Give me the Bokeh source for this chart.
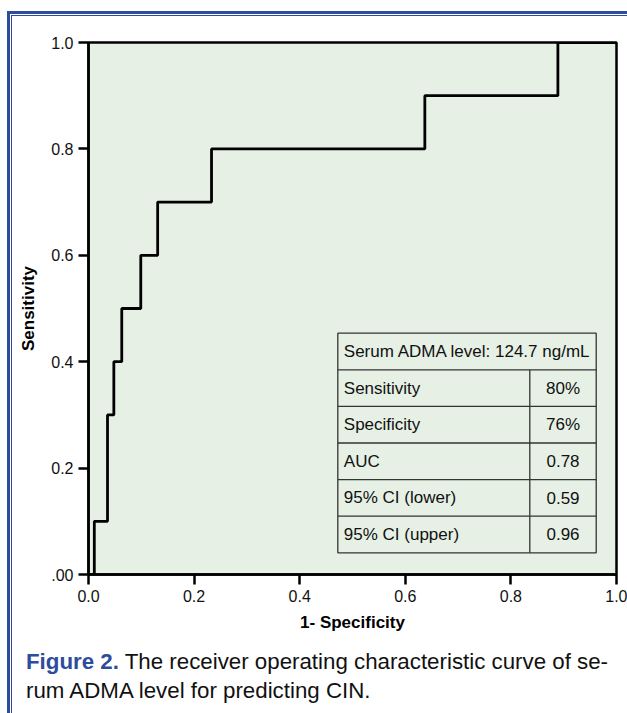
from bokeh.plotting import figure
from bokeh.layouts import column
from bokeh.models import Range1d, FixedTicker, Div
from bokeh.core.properties import value
from bokeh.embed import file_html
from bokeh.resources import INLINE

# ---- data ----
fpr = [0.0, 0.011, 0.036, 0.048, 0.063, 0.099, 0.131, 0.233, 0.637, 0.889, 1.0]
tpr = [0.0, 0.1, 0.3, 0.4, 0.5, 0.6, 0.7, 0.8, 0.9, 1.0, 1.0]
ticks = [0.0, 0.2, 0.4, 0.6, 0.8, 1.0]
x_tick_labels = ["0.0", "0.2", "0.4", "0.6", "0.8", "1.0"]
y_tick_labels = [".00", "0.2", "0.4", "0.6", "0.8", "1.0"]
table_header = "Serum ADMA level: 124.7 ng/mL"
table_labels = ["Sensitivity", "Specificity", "AUC", "95% CI (lower)", "95% CI (upper)"]
table_values = ["80%", "76%", "0.78", "0.59", "0.96"]
caption_bold = "Figure 2."
caption_line1 = "The receiver operating characteristic curve of se-"
caption_line2 = "rum ADMA level for predicting CIN."
x_label = "1- Specificity"
y_label = "Sensitivity"

# ---- style ----
FONT = "Liberation Sans"
BG = "#E6F0E5"
BLUE = "#2D4C9C"
CONTENT_W = 617

p = figure(width=CONTENT_W, height=622, output_backend="svg", toolbar_location=None,
           x_range=Range1d(0, 1), y_range=Range1d(0, 1),
           min_border_left=78, min_border_right=11, min_border_top=28, min_border_bottom=62)
p.background_fill_color = BG
p.border_fill_color = None
p.outline_line_color = "black"
p.outline_line_width = 2.5
p.grid.visible = False

for ax, labels, lab in ((p.xaxis, x_tick_labels, x_label), (p.yaxis, y_tick_labels, y_label)):
    ax.ticker = FixedTicker(ticks=ticks)
    ax.major_label_overrides = dict(zip(ticks, labels))
    ax.axis_line_width = 2.5
    ax.axis_line_color = "black"
    ax.major_tick_line_width = 2.5
    ax.major_tick_line_color = "black"
    ax.major_tick_out = 10
    ax.major_tick_in = 0
    ax.minor_tick_line_color = None
    ax.major_label_text_font = FONT
    ax.major_label_text_font_size = "16px"
    ax.major_label_text_color = "#111111"
    ax.major_label_standoff = 5
    ax.axis_label = lab
    ax.axis_label_text_font = FONT
    ax.axis_label_text_font_style = "bold"
    ax.axis_label_text_font_size = "17px"
    ax.axis_label_text_color = "black"
p.xaxis.axis_label_standoff = 8
p.yaxis.axis_label_standoff = 10

# ROC curve
p.step(fpr, tpr, mode="after", line_color="black", line_width=2.8)

# ---- inset table (layout constants in data units) ----
T_LEFT, T_RIGHT, T_SPLIT = 0.4722, 0.9616, 0.8358
T_TOP, ROW_H = 0.4536, 0.0688
n_rows = len(table_labels) + 1
tops = [T_TOP - i * ROW_H for i in range(n_rows)]
bottoms = [t - ROW_H for t in tops]
p.quad(left=T_LEFT, right=T_RIGHT, top=tops[0], bottom=bottoms[-1],
       fill_color=BG, line_color="#333333", line_width=1.3)
p.segment(x0=[T_LEFT] * (n_rows - 1), x1=[T_RIGHT] * (n_rows - 1),
          y0=bottoms[:-1], y1=bottoms[:-1], line_color="#333333", line_width=1.3)
p.segment(x0=[T_SPLIT], x1=[T_SPLIT], y0=[tops[1]], y1=[bottoms[-1]],
          line_color="#333333", line_width=1.3)
pad = 6 / 528
mids = [(t + b) / 2 for t, b in zip(tops, bottoms)]
p.text(x=[T_LEFT + pad] * n_rows, y=mids, text=[table_header] + table_labels,
       text_font=value(FONT), text_font_size="17px", text_color="#111111",
       text_align="left", text_baseline="middle")
p.text(x=[(T_SPLIT + T_RIGHT) / 2] * len(table_values), y=mids[1:], text=table_values,
       text_font=value(FONT), text_font_size="17px", text_color="#111111",
       text_align="center", text_baseline="middle")

# ---- caption ----
cap_html = (
    f'<div style="padding:6px 0 0 11px; font-family:\'{FONT}\'; font-size:22.3px; '
    f'line-height:29.4px; color:#111111; white-space:nowrap;">'
    f'<span style="color:{BLUE}; font-weight:bold;">{caption_bold}</span> {caption_line1}<br>'
    f'{caption_line2}</div>'
)
cap = Div(text=cap_html, width=CONTENT_W, height=75)

root = column(p, cap, spacing=0, styles={
    "margin-left": "7px", "margin-top": "11px",
    "border-left": f"3px solid {BLUE}", "border-top": f"3px solid {BLUE}",
    "box-shadow": f"inset 1px 1px 0 0 #ffffff, inset 2px 2px 0 0 {BLUE}",
})

open("out.html", "w").write(file_html(root, INLINE))
